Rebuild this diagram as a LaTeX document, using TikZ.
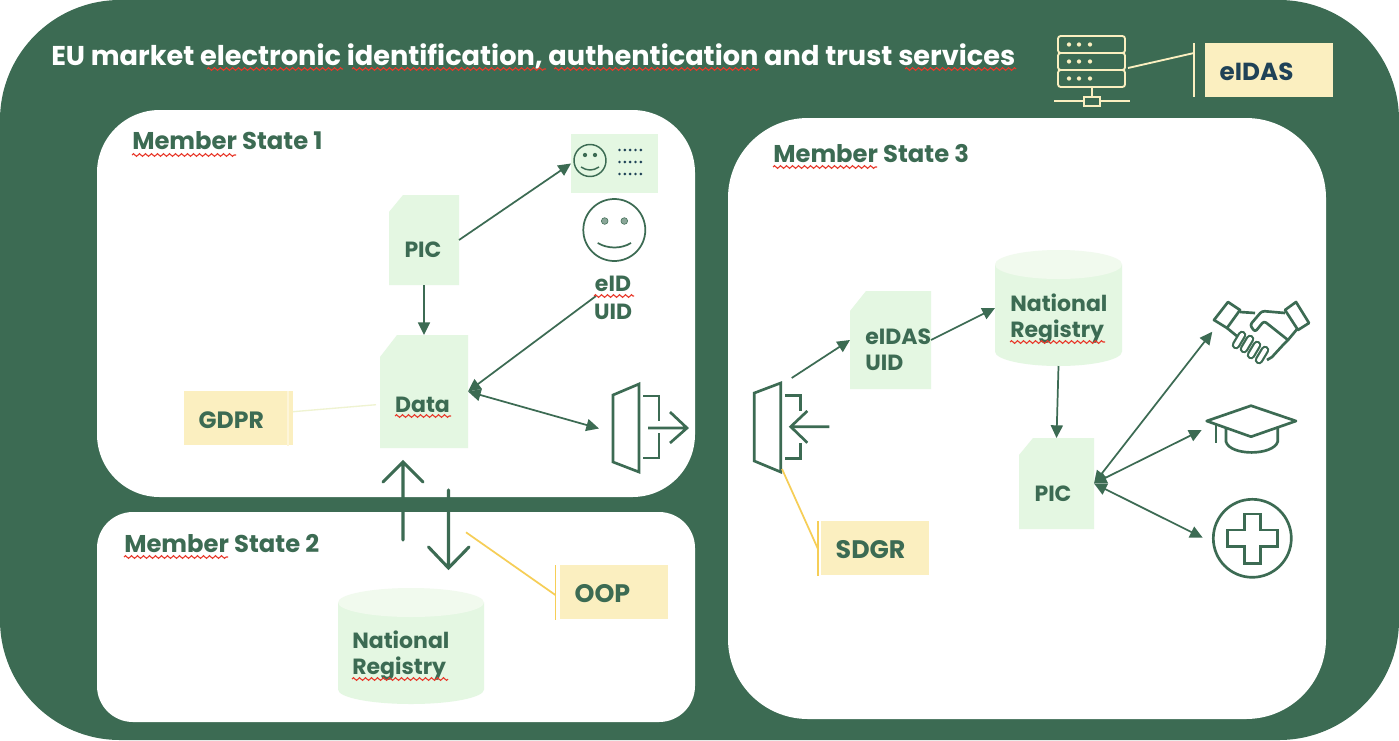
\documentclass[tikz,border=0pt]{standalone}
\usepackage{fontspec}
\setmainfont{Poppins}
\usetikzlibrary{arrows.meta}
\usetikzlibrary{decorations.pathmorphing}
\definecolor{euGreen}{HTML}{3C6B53}
\definecolor{paleGreen}{HTML}{E4F7E2}
\definecolor{topGreen}{HTML}{F1FAEE}
\definecolor{cream}{HTML}{FBEFC0}
\definecolor{barYellow}{HTML}{F6CE57}
\definecolor{navy}{HTML}{1F4257}
\definecolor{squiggleRed}{HTML}{E8392B}
\tikzset{
  statebox/.style={fill=white,rounded corners=#1},
  headtext/.style={anchor=west,inner sep=0pt,text=euGreen,font=\fontsize{18.2}{22}\selectfont\bfseries},
  labeltext/.style={inner sep=0pt,text=euGreen,align=left,font=\fontsize{16.5}{19.5}\selectfont\bfseries},
  areanode/.style={inner sep=0pt,outer sep=0pt},
  notebox/.style={fill=cream,inner xsep=11pt,inner ysep=0pt,minimum height=40.5pt,text width=#1,text height=15pt,text depth=0pt,outer sep=0pt,text=euGreen,font=\fontsize{19}{22}\selectfont\bfseries},
  flow/.style={euGreen,line width=1.3pt,-{Triangle[length=9.5pt,width=9pt]}},
  twoway/.style={euGreen,line width=1.3pt,{Triangle[length=9.5pt,width=9pt]}-{Triangle[length=9.5pt,width=9pt]}},
  bigarrow/.style={euGreen,line width=2.3pt,line cap=round},
  icon/.style={euGreen,line width=2pt},
  servericon/.style={cream,line width=1.4pt},
  squiggle/.style={squiggleRed,line width=0.8pt,decorate,decoration={zigzag,amplitude=1.1pt,segment length=4.5pt}},
  noteline/.style={barYellow,line width=1.3pt},
}
% sheet with a cut corner: name, left, top, right, bottom, cut x, cut y
\newcommand{\docsheet}[7]{
  \fill [paleGreen] (#2+#6,#3) -- (#4,#3) -- (#4,#5) -- (#2,#5) -- (#2,#3+#7) -- cycle;
  \node [areanode,minimum width={(#4-#2)*0.75pt},minimum height={(#5-#3)*0.75pt}] (#1) at ({(#2+#4)/2},{(#3+#5)/2}) {};
}
% drum: name, left, top, right, bottom
\newcommand{\regdrum}[5]{
  \fill [paleGreen] (#2,#3+14.5) -- (#2,#5-14.5) arc [start angle=180,end angle=0,x radius={(#4-#2)/2},y radius=14.5] -- (#4,#3+14.5) -- cycle;
  \fill [topGreen] ({(#2+#4)/2},#3+14.5) ellipse [x radius={(#4-#2)/2},y radius=14.5];
  \node [areanode,minimum width={(#4-#2)*0.75pt},minimum height={(#5-#3)*0.75pt}] (#1) at ({(#2+#4)/2},{(#3+#5)/2}) {};
}
\begin{document}
\begin{tikzpicture}[x=0.75pt,y=0.75pt,yscale=-1,xscale=1]
\useasboundingbox (0,0) rectangle (1399,740);

%Shape: outer market area
\fill [euGreen,rounded corners=90pt] (0,0) rectangle (1399,740);
\fill [statebox=47pt] (97,110) rectangle (695,497);
\fill [statebox=27pt] (97,512) rectangle (695,722);
\fill [statebox=60pt] (728,118) rectangle (1326,719);

% Text Node
\node [anchor=west,inner sep=0pt,text=white,font=\fontsize{20.4}{24}\selectfont\bfseries] (title) at (51,56) {EU market electronic identification, authentication and trust services};
\node [headtext] (stateone) at (132,141) {Member State 1};
\node [headtext] (statetwo) at (124,544) {Member State 2};
\node [headtext] (statethree) at (773,154) {Member State 3};

%Server icon
\foreach \rowy in {36,53,70} {
  \draw [servericon,rounded corners=2pt] (1058,\rowy) rectangle (1125,\rowy+17);
  \foreach \dotx in {1069,1079,1090} \fill [cream] (\dotx,\rowy+8.5) circle (1.6pt);
}
\draw [servericon] (1092,87) -- (1092,97);
\draw [servericon] (1084,97) rectangle (1100,106);
\draw [servericon] (1054,101) -- (1084,101) (1100,101) -- (1130,101);
\coordinate (serverport) at (1128,68);
\coordinate (eidasbar) at (1194,53);
\draw [servericon] (serverport) -- (eidasbar);
\draw [servericon,line width=1pt] (1194,43) -- (1194,97);
\node [notebox=74pt,anchor=north west,text=navy,font=\fontsize{18.5}{22}\selectfont\bfseries] (eidas) at (1205,43) {eIDAS};

%Member State 1
\docsheet{picone}{389}{195}{459}{285}{14}{17}
\node [labeltext] (piconetext) at (423,250) {PIC};
\docsheet{data}{380}{335}{468}{448}{17}{22}
\node [labeltext] (datatext) at (422.5,405) {Data};
\node [fill=paleGreen,minimum width=65.25pt,minimum height=44.25pt,inner sep=0pt,outer sep=0pt] (card) at (614.5,163.5) {};
\draw [icon,line width=1.1pt] (590,160.5) circle (12pt);
\fill [euGreen] (585,155) circle (1.6pt) (595,155) circle (1.6pt);
\draw [icon,line width=1.1pt] (581,167) .. controls (587,171) and (593,171) .. (599,167);
\foreach \rowy in {150,162,174} \foreach \dotx in {619.5,624.9,630.2,635.5,640.8} \fill [navy] (\dotx,\rowy) circle (1.1pt);
\node [circle,draw=euGreen,line width=1.3pt,minimum size=46.5pt,inner sep=0pt] (face) at (614.3,230) {};
\fill [euGreen!60,draw=euGreen] (604.7,221) circle (2.5pt) (624.3,221) circle (2.5pt);
\draw [icon,line width=1.3pt] (597.7,243) .. controls (608,249) and (621,249) .. (631,243);
\node [labeltext,align=center] (eidtext) at (613,298) {eID\\[1.5pt]UID};

\coordinate (eidfoot) at (596,296);
\coordinate (gateoneport) at (599,428.5);
\draw [flow] (picone.east) -- (card.west);
\draw [flow] (picone.south) -- (data.north);
\draw [flow] (eidfoot) -- (data.east);
\draw [twoway] (data.east) -- (gateoneport);

%Gateway leaving Member State 1
\draw [icon] (613,395) -- (639,384) -- (639,472) -- (613,462) -- cycle;
\draw [icon] (643,396) -- (659,396) -- (659,421) (659,433) -- (659,458) -- (643,458);
\draw [icon] (648,428) -- (687,428) (670,412) -- (687,428) -- (670,443);

\node [notebox=59.75pt,anchor=north west,font=\fontsize{17.7}{22}\selectfont\bfseries] (gdpr) at (184,391) {GDPR};
\draw [cream!60!white,line width=1pt] (288,391) -- (288,446);
\coordinate (gdprport) at (293,411.7);
\coordinate (dataport) at (376,404.7);
\draw [cream!50!paleGreen,line width=1pt] (gdprport) -- (dataport);

%Crossing between Member State 1 and 2
\draw [bigarrow] (403,540) -- (403,462) (383,482) -- (403,462) -- (423,482);
\draw [bigarrow] (448.5,490) -- (448.5,568) (428.5,547) -- (448.5,568) -- (469,547);

%Member State 2
\regdrum{regtwo}{338}{588}{484}{704}
\node [labeltext,anchor=north west] (regtwotext) at (352,631) {National\\Registry};
\node [notebox=59pt,anchor=north west] (oop) at (560,565) {OOP};
\draw [noteline] (555.4,565) -- (555.4,620);
\coordinate (oopbar) at (555.4,595);
\coordinate (oopfoot) at (466,532.3);
\draw [noteline] (oopfoot) -- (oopbar);

%Gateway entering Member State 3
\draw [icon] (754.3,393) -- (780.7,383) -- (780.7,472) -- (754.3,461) -- cycle;
\draw [icon] (785,395.7) -- (800.7,395.7) -- (800.7,410.7) (800.7,443.3) -- (800.7,458.3) -- (785,458.3);
\draw [icon] (829.3,426.7) -- (790.7,426.7) (807.3,411) -- (790.7,426.7) -- (807.3,442.7);

\docsheet{eiddoc}{850}{291}{931}{389}{16}{20}
\node [labeltext,anchor=north west] (eiddoctext) at (865,329) {eIDAS\\UID};
\regdrum{regthree}{995}{250}{1122}{366}
\node [labeltext,anchor=north west] (regthreetext) at (1010,294) {National\\Registry};
\docsheet{picthree}{1019}{438}{1094}{529}{14}{17}
\node [labeltext] (picthreetext) at (1053,494) {PIC};
\node [notebox=59pt,anchor=north west] (sdgr) at (821,521) {SDGR};
\draw [noteline] (818,521) -- (818,576);
\coordinate (sdgrbar) at (818,549);
\coordinate (gatefoot) at (782,469);
\draw [noteline] (gatefoot) -- (sdgrbar);

\coordinate (gatetwoport) at (791.7,378);
\coordinate (handshake) at (1212.3,331.7);
\coordinate (capport) at (1201.7,430);
\coordinate (careport) at (1202.7,537.7);
\draw [flow] (gatetwoport) -- (eiddoc.west);
\draw [flow] (eiddoc.east) -- (regthree.west);
\draw [flow] (regthree.south) -- (picthree.north);
\draw [twoway] (picthree.east) -- (handshake);
\draw [twoway] (picthree.east) -- (capport);
\draw [twoway] (picthree.east) -- (careport);

%Handshake
\draw [icon,line join=round] (1228,302) -- (1240,310) -- (1227,328) -- (1214,320) -- cycle;
\draw [icon,line join=round] (1296,302) -- (1309,323) -- (1298,330) -- (1285,310) -- cycle;
\draw [icon,line join=round] (1240,312) -- (1255,313);
\draw [icon,line join=round,rounded corners=2pt] (1285,313) -- (1262,311) -- (1250,325) -- (1255,332) -- (1264,321) -- (1288,340);
\draw [icon,line join=round] (1298,328) -- (1288,340) -- (1283,345) -- (1272,357) -- (1267,360);
\draw [icon] (1227,328) -- (1238,337);
\foreach \fx/\fy in {1262/355,1254/350,1247/344,1239/340} {
  \draw [euGreen,line width=1.7pt,double=white,double distance=3pt,line cap=round] (\fx+3,\fy-5) -- (\fx-3,\fy+5);
}

%Graduation cap
\draw [icon,line join=round] (1251,405.7) -- (1296,421) -- (1251,436.7) -- (1206.7,421) -- cycle;
\draw [icon] (1216,423) -- (1216,443);
\draw [icon] (1226,427) -- (1226,441.7) .. controls (1230,456) and (1273,456) .. (1277.7,441.7) -- (1277.7,427);

%Health cross
\node [circle,draw=euGreen,line width=2pt,minimum size=58.5pt,inner sep=0pt] (careicon) at (1252.3,538.3) {};
\draw [icon] (1244.3,514) -- (1260.7,514) -- (1260.7,530) -- (1277.3,530) -- (1277.3,546.7) -- (1260.7,546.7) -- (1260.7,563.3) -- (1244.3,563.3) -- (1244.3,546.7) -- (1227.7,546.7) -- (1227.7,530) -- (1244.3,530) -- cycle;

%Spelling marks
\draw [squiggle] (207,69) -- (343,69);
\draw [squiggle] (352,69) -- (546,69);
\draw [squiggle] (554,69) -- (759,69);
\draw [squiggle] (905,69) -- (1016,69);
\draw [squiggle] (132,155) -- (236,155);
\draw [squiggle] (124,557) -- (228,557);
\draw [squiggle] (773,167) -- (877,167);
\draw [squiggle] (594,296) -- (634,296);
\draw [squiggle] (395,416) -- (451,416);
\draw [squiggle] (352,679) -- (448,679);
\draw [squiggle] (1010,342) -- (1105,342);

\end{tikzpicture}
\end{document}
